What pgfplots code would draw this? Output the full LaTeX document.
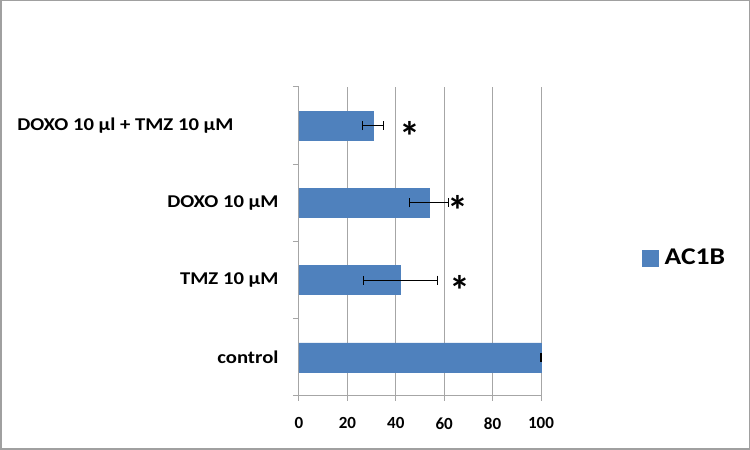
\documentclass[border=0pt]{standalone}
\usepackage{pgfplots}
\pgfplotsset{compat=1.18}
\usepackage{fontspec}
\setmainfont{Carlito}
\newfontfamily\widefont{Carlito}[FakeStretch=1.15]
\definecolor{barblue}{HTML}{4F81BD}
\definecolor{gridgray}{HTML}{A6A6A6}
\definecolor{framegray}{HTML}{A0A0A0}
\begin{document}
\begin{tikzpicture}
\path[use as bounding box] (0pt,0pt) rectangle (750pt,450pt);
\draw[framegray,line width=1.5pt] (0.75pt,0.75pt) rectangle (749.25pt,449.25pt);
\begin{axis}[
  at={(299pt,54pt)}, anchor=south west,
  scale only axis, width=242pt, height=309pt,
  xbar, bar width=29pt,
  xmin=0, xmax=100,
  ymin=-0.5, ymax=3.5,
  xtick={0,20,40,60,80,100},
  ytick={0,1,2,3},
  yticklabels={control,TMZ 10 µM,DOXO 10 µM,DOXO 10 µl + TMZ 10 µM\hspace*{45pt}},
  extra y ticks={-0.5,0.5,1.5,2.5,3.5},
  extra y tick labels={},
  extra y tick style={ytick style={draw=gridgray, line width=1pt}, major tick length=6pt},
  axis x line*=bottom, axis y line*=left,
  axis line style={gridgray, line width=1pt},
  xmajorgrids, grid style={gridgray, line width=1pt},
  major tick length=5pt,
  tick align=outside,
  xtick style={gridgray, line width=1pt},
  ytick style={draw=none},
  /pgf/number format/assume math mode=true,
  xticklabel style={font=\fontsize{17}{17}\selectfont\bfseries, yshift=-13pt},
  yticklabel style={font=\widefont\fontsize{18}{18}\selectfont\bfseries, xshift=-12pt},
  legend style={draw=none, at={(1.405,0.447)}, anchor=west,
    legend cell align=left, font=\widefont\fontsize{24}{24}\selectfont\bfseries},
  legend image code/.code={\fill[barblue] (0pt,-8pt) rectangle (16pt,8pt);},
  clip=false,
]
\addplot[fill=barblue, draw=barblue,
  error bars/.cd, x dir=both, x explicit,
  error bar style={black, line width=1.2pt},
  error mark options={black, line width=1.2pt, mark size=4.5pt, rotate=90}]
  coordinates {
  (100,0) +- (0.3,0)
  (42,1) +- (15.3,0)
  (53.7,2) +- (8.1,0)
  (30.6,3) +- (4.3,0)
  };
\addlegendentry{\hspace{4pt}\widefont\fontsize{24}{24}\selectfont\bfseries AC1B}
\node[font=\fontsize{42}{42}\selectfont\bfseries] at (axis cs:45.7,2.86) {*};
\node[font=\fontsize{42}{42}\selectfont\bfseries] at (axis cs:65.7,1.90) {*};
\node[font=\fontsize{42}{42}\selectfont\bfseries] at (axis cs:66.5,0.864) {*};
\end{axis}
\end{tikzpicture}
\end{document}
